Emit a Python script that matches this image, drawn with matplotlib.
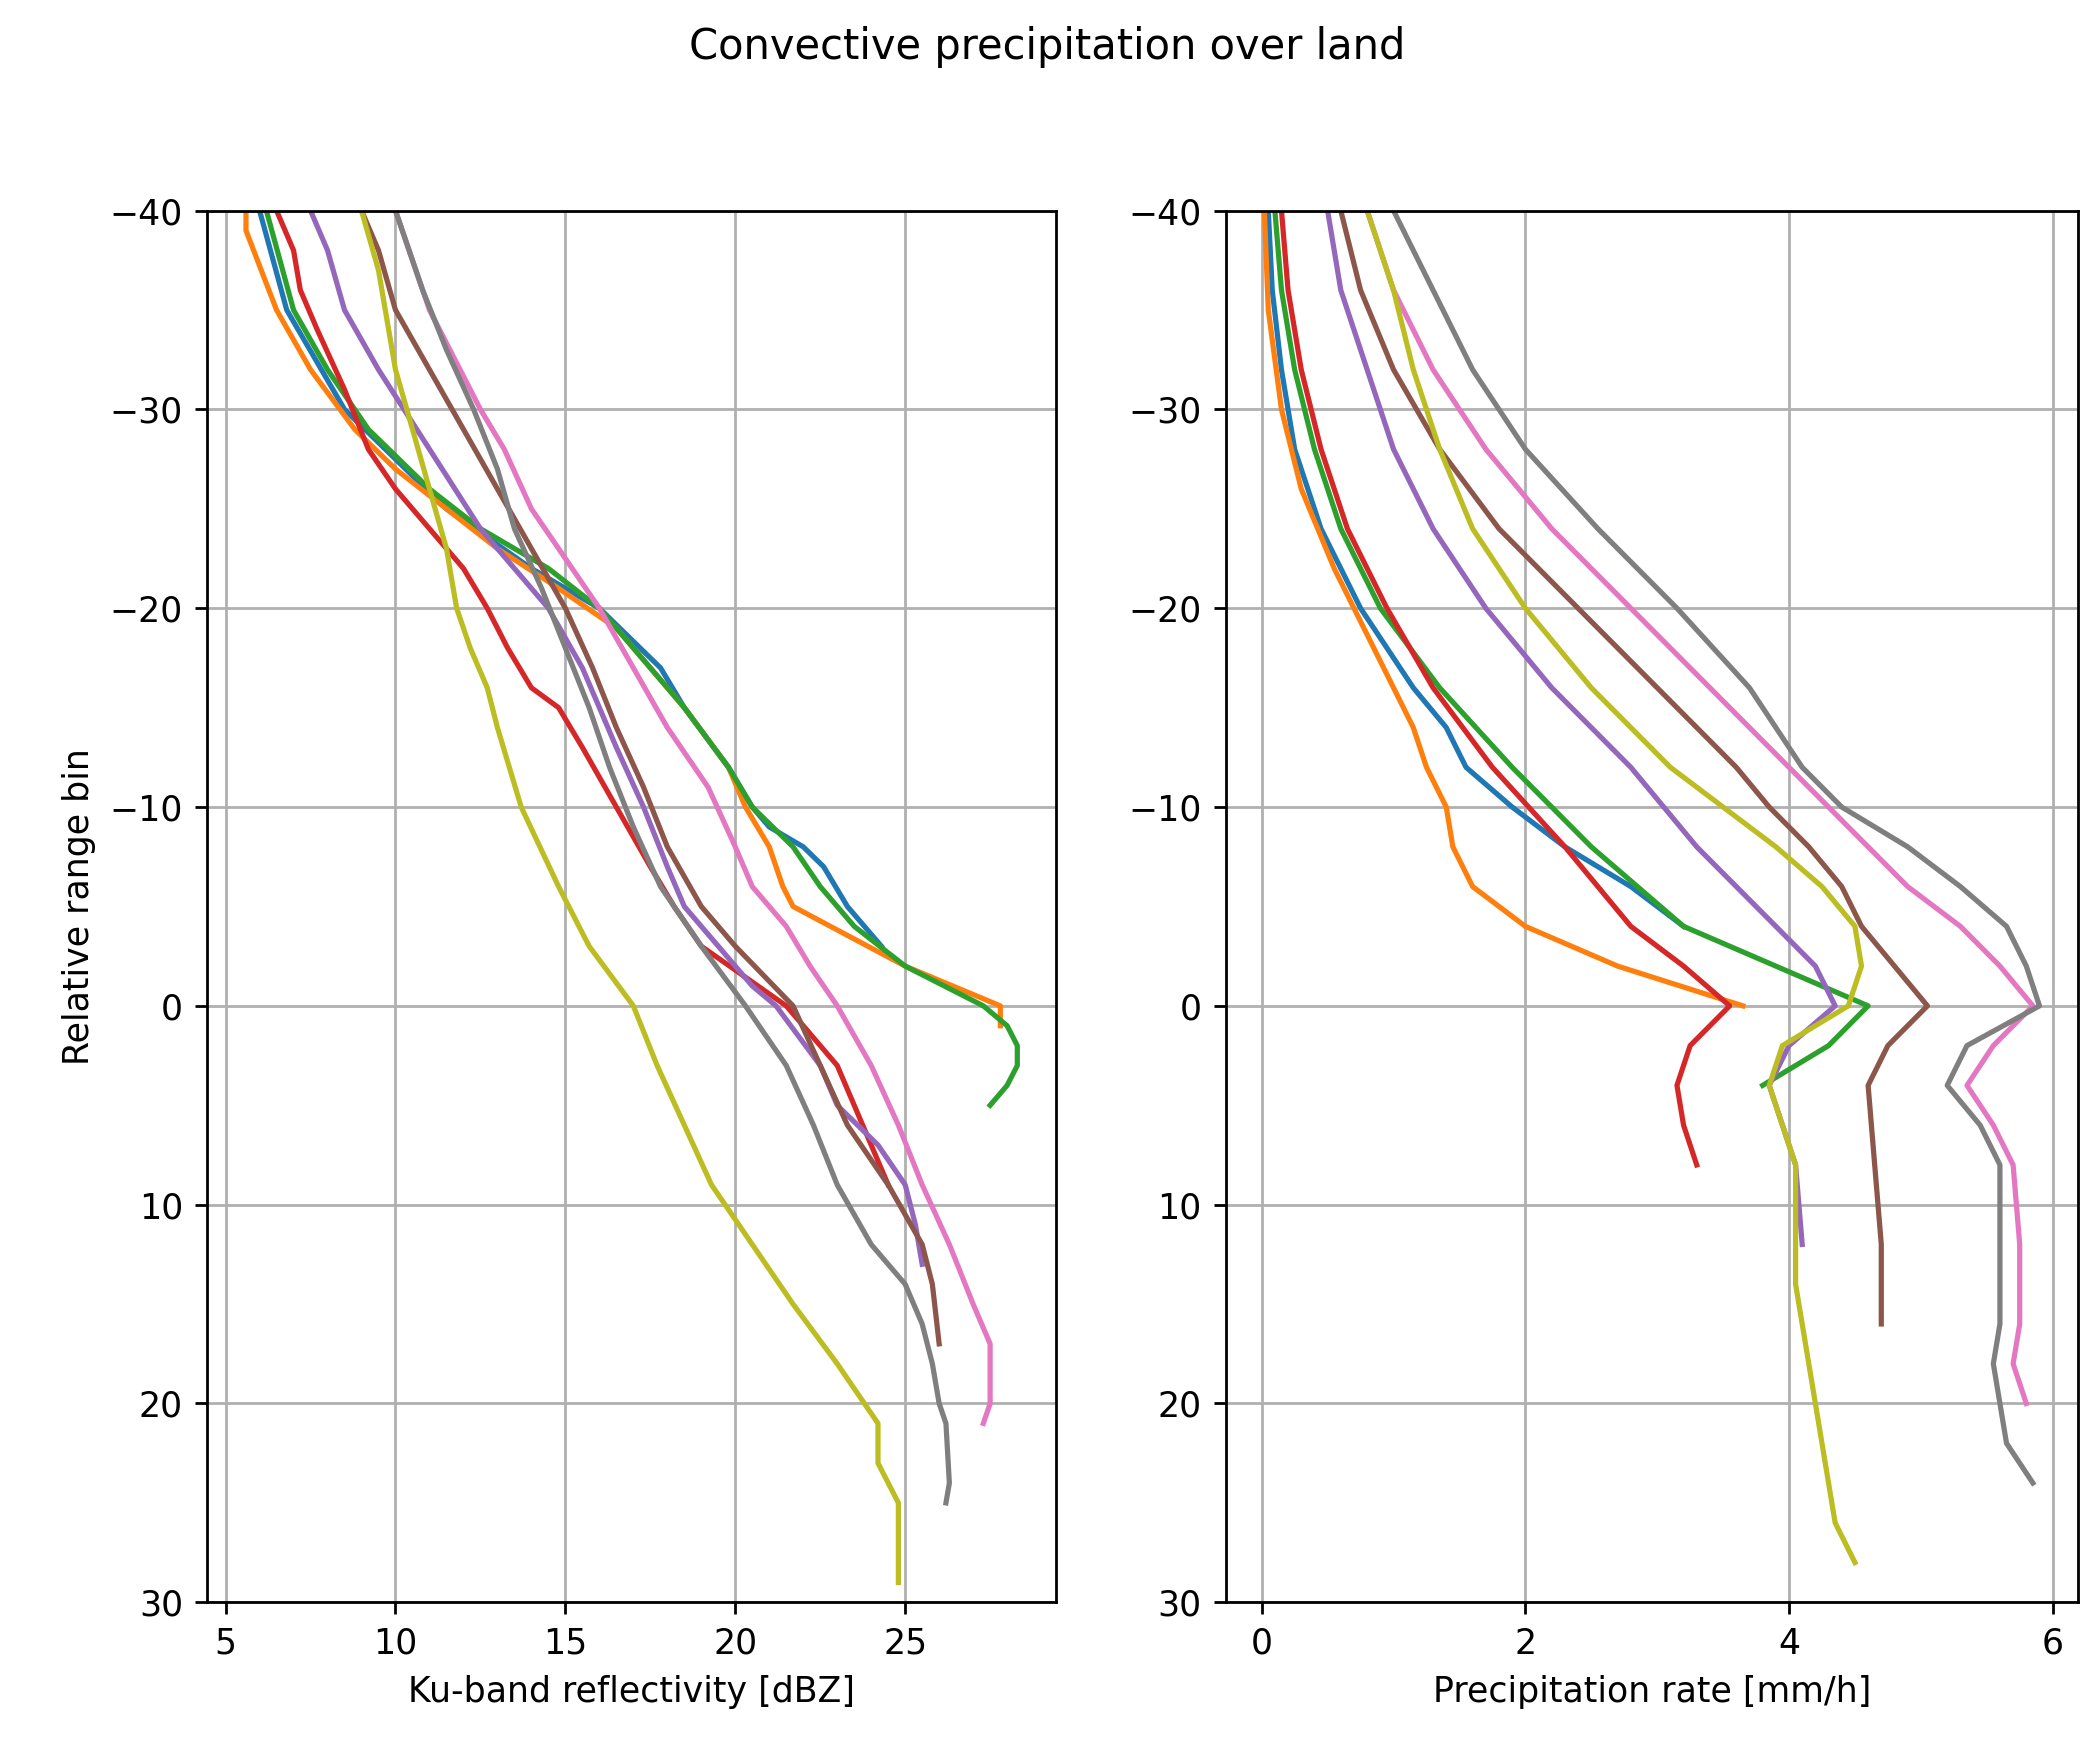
import matplotlib
matplotlib.use("Agg")
import matplotlib.pyplot as plt

colors = ["C0","C1","C2","C3","C4","C5","C6","C7","C8"]

# Left panel: (bins, reflectivity dBZ)
zb = [
 ([-40,-35,-30,-25,-22,-20,-17,-15,-12,-10,-9,-8,-7,-5,-3],
  [6.0,6.8,8.5,11.5,14,16,17.8,18.5,19.8,20.5,21,22,22.6,23.3,24.3]),
 ([-40,-39,-35,-32,-29,-27,-25,-23,-21,-19,-17,-15,-12,-10,-8,-6,-5,-2,0,1],
  [5.6,5.6,6.5,7.5,8.8,10,11.5,13,14.8,16.5,17.5,18.5,19.8,20.3,21,21.4,21.7,25,27.8,27.8]),
 ([-40,-35,-32,-29,-26,-24,-22,-20,-17,-15,-12,-10,-8,-6,-4,-2,0,1,2,3,4,5],
  [6.2,7,8,9.2,11,12.5,14.5,16,17.5,18.5,19.8,20.5,21.7,22.5,23.5,25,27.3,28,28.3,28.3,28,27.5]),
 ([-40,-38,-36,-34,-31,-28,-26,-24,-22,-20,-18,-16,-15,-13,-10,-7,-5,-3,0,3,5,7,9],
  [6.5,7,7.2,7.7,8.5,9.2,10,11,12,12.7,13.3,14,14.8,15.5,16.5,17.5,18.2,19,21.5,23,23.5,24,24.5]),
 ([-40,-38,-35,-32,-28,-24,-20,-17,-13,-10,-7,-5,-3,-1,0,3,5,7,9,11,13],
  [7.5,8,8.5,9.5,11,12.5,14.5,15.5,16.5,17.3,18,18.5,19.5,20.5,21.2,22.5,23,24.2,25,25.3,25.5]),
 ([-40,-38,-35,-32,-29,-26,-23,-20,-17,-14,-11,-8,-5,-3,0,3,6,9,12,14,17],
  [9,9.5,10,11,12,13,14,15,15.8,16.5,17.3,18,19,20,21.7,22.5,23.3,24.5,25.5,25.8,26]),
 ([-40,-35,-30,-28,-25,-23,-20,-17,-14,-11,-8,-6,-4,-2,0,3,6,9,12,15,17,20,21],
  [10,11,12.5,13.2,14,14.8,16,17,18,19.2,20,20.5,21.5,22.2,23,24,24.8,25.5,26.3,27,27.5,27.5,27.3]),
 ([-40,-36,-33,-30,-27,-24,-21,-18,-15,-12,-9,-6,-3,0,3,6,9,12,14,16,18,20,21,24,25],
  [10,10.8,11.5,12.3,13,13.5,14.3,15,15.7,16.3,17,17.8,19,20.3,21.5,22.3,23,24,25,25.5,25.8,26,26.2,26.3,26.2]),
 ([-40,-37,-35,-32,-29,-26,-23,-20,-18,-16,-14,-10,-6,-3,0,3,6,9,12,15,18,20,21,23,25,29],
  [9,9.5,9.7,10,10.5,11,11.5,11.8,12.2,12.7,13,13.7,14.8,15.7,17,17.7,18.5,19.3,20.5,21.7,23,23.8,24.2,24.2,24.8,24.8]),
]

# Right panel: (bins, precipitation rate mm/h)
pr = [
 ([-40,-36,-32,-28,-24,-20,-16,-14,-12,-10,-8,-6,-4],
  [0.05,0.08,0.15,0.25,0.45,0.75,1.15,1.4,1.55,1.9,2.3,2.8,3.2]),
 ([-40,-35,-30,-26,-22,-18,-14,-12,-10,-8,-6,-4,-2,0],
  [0.02,0.05,0.15,0.3,0.55,0.85,1.15,1.25,1.4,1.45,1.6,2.0,2.7,3.65]),
 ([-40,-36,-32,-28,-24,-20,-16,-12,-8,-4,-2,0,2,4],
  [0.1,0.15,0.25,0.4,0.6,0.9,1.35,1.9,2.5,3.2,3.9,4.6,4.3,3.8]),
 ([-40,-36,-32,-28,-24,-20,-16,-12,-8,-4,-2,0,2,4,6,8],
  [0.15,0.2,0.3,0.45,0.65,0.95,1.3,1.75,2.3,2.8,3.2,3.55,3.25,3.15,3.2,3.3]),
 ([-40,-36,-32,-28,-24,-20,-16,-12,-8,-4,-2,0,2,4,6,8,12],
  [0.5,0.6,0.8,1.0,1.3,1.7,2.2,2.8,3.3,3.9,4.2,4.35,4.0,3.85,3.95,4.05,4.1]),
 ([-40,-36,-32,-28,-24,-20,-16,-12,-10,-8,-6,-4,-2,0,2,4,8,12,14,16],
  [0.6,0.75,1.0,1.35,1.8,2.4,3.0,3.6,3.85,4.15,4.4,4.55,4.8,5.05,4.75,4.6,4.65,4.7,4.7,4.7]),
 ([-40,-36,-32,-28,-24,-20,-16,-12,-8,-6,-4,-2,0,2,4,6,8,12,16,18,20],
  [0.8,1.0,1.3,1.7,2.2,2.8,3.4,4.0,4.6,4.9,5.3,5.6,5.85,5.55,5.35,5.55,5.7,5.75,5.75,5.7,5.8]),
 ([-40,-36,-32,-28,-24,-20,-16,-12,-10,-8,-6,-4,-2,0,2,4,6,8,12,16,18,20,22,24],
  [1.0,1.3,1.6,2.0,2.55,3.15,3.7,4.1,4.4,4.9,5.3,5.65,5.8,5.9,5.35,5.2,5.45,5.6,5.6,5.6,5.55,5.6,5.65,5.85]),
 ([-40,-36,-32,-28,-24,-20,-16,-12,-10,-8,-6,-4,-2,0,2,4,6,8,10,14,16,20,22,24,26,28],
  [0.8,1.0,1.15,1.35,1.6,2.0,2.5,3.1,3.5,3.9,4.25,4.5,4.55,4.45,3.95,3.85,3.95,4.05,4.05,4.05,4.1,4.2,4.25,4.3,4.35,4.5]),
]

fig = plt.figure(figsize=(8.38, 7.02), dpi=250)
ax1 = fig.add_axes([0.099, 0.087, 0.405, 0.793])
ax2 = fig.add_axes([0.585, 0.087, 0.407, 0.793])

for c, (b, v) in zip(colors, zb):
    ax1.plot(v, b, color=c, lw=1.5)
for c, (b, v) in zip(colors, pr):
    ax2.plot(v, b, color=c, lw=1.5)

for ax in (ax1, ax2):
    ax.set_ylim(30, -40)
    ax.grid(True)
ax2.set_xticks([0, 2, 4, 6])
ax1.set_xlabel("Ku-band reflectivity [dBZ]")
ax1.set_ylabel("Relative range bin")
ax2.set_xlabel("Precipitation rate [mm/h]")
fig.suptitle("Convective precipitation over land", fontsize=12, y=0.985)
fig.savefig("out.png", dpi=250)
